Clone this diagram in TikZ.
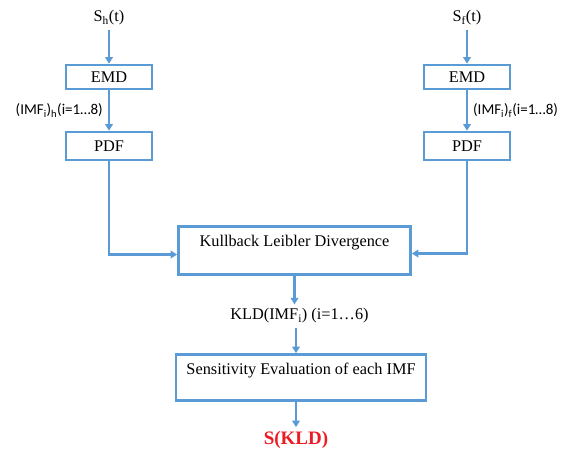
\documentclass[tikz,border=0pt]{standalone}
\usepackage{fontspec}
\setmainfont{Liberation Serif}
\newfontfamily\calibrifont{Carlito}
\usetikzlibrary{arrows.meta}
\usetikzlibrary{positioning}
\definecolor{boxblue}{RGB}{91,155,213}
\definecolor{outred}{RGB}{237,28,36}
\tikzset{
    block/.style={
           rectangle,
           draw=boxblue, line width=2.6pt,
           inner sep=2pt,
           text centered,
           font=\fontsize{16.3}{19}\selectfont,
           },
    block2/.style={
           block,
           inner sep=4pt,
           text height=15.5pt,
           },
    signal/.style={
           inner sep=3pt,
           font=\fontsize{16.3}{19}\selectfont,
           },
    imflabel/.style={
           inner sep=5pt,
           font=\calibrifont\fontsize{15}{17}\selectfont,
           },
}

\begin{document}
\begin{tikzpicture}
[
x=1pt,y=-1pt,
->,>={Triangle[width=7.5pt,length=6.5pt]},
line width=2.4pt, draw=boxblue
]
 \useasboundingbox (0,0) rectangle (576,456);

 % input signals
 \node[signal] (SH) at (109,18) {S\textsubscript{h}(t)};
 \node[signal] (SF) at (467,18) {S\textsubscript{f}(t)};

 % EMD boxes
 \node[block,
 node distance=59pt,
 below of=SH,
 minimum width=86pt,
 minimum height=24pt] (EMDH) {EMD};

 \node[block,
 node distance=59pt,
 below of=SF,
 minimum width=86pt,
 minimum height=24pt] (EMDF) {EMD};

 % PDF boxes
 \node[block,
 node distance=69pt,
 below of=EMDH,
 minimum width=86pt,
 minimum height=28pt] (PDFH) {PDF};

 \node[block,
 node distance=69pt,
 below of=EMDF,
 minimum width=86pt,
 minimum height=28pt] (PDFF) {PDF};

 % Kullback Leibler box, text at the top
 \node[block2,
 minimum width=232pt,
 text depth=24pt] (KL) at (294.5,250.5)
 {Kullback Leibler Divergence};

 \node[signal,
 node distance=65.5pt,
 below of=KL,
 xshift=5pt] (KLD)
 {KLD(IMF\textsubscript{i}) (i=1…6)};

 % Sensitivity box
 \node[block2,
 node distance=61.5pt,
 below of=KLD,
 xshift=1.5pt,
 minimum width=250pt,
 text depth=22.5pt] (SENS)
 {Sensitivity Evaluation of each IMF};

 \node[signal,
 node distance=62.5pt,
 below of=SENS,
 xshift=-5pt,
 text=outred,
 font=\bfseries\fontsize{19}{22}\selectfont] (SKLD)
 {S(KLD)};

 % the connectors
 \draw (SH) -- (EMDH);
 \draw (SF) -- (EMDF);
 \draw (EMDH) -- node[imflabel,left]{(IMF\textsubscript{i})\textsubscript{h}(i=1…8)} (PDFH);
 \draw (EMDF) -- node[imflabel,right]{(IMF\textsubscript{i})\textsubscript{f}(i=1…8)} (PDFF);
 \draw (PDFH) |- ([yshift=-4pt]KL.west);
 \draw (PDFF) |- ([yshift=-3pt]KL.east);
 \draw (KL.south) -- (KL.south |- KLD.north);
 \draw ([xshift=1.5pt]KL.south |- KLD.south) -- ([xshift=1.5pt]KL.south |- SENS.north);
 \draw (SENS.south -| SKLD.north) -- (SKLD);

\end{tikzpicture}
\end{document}
